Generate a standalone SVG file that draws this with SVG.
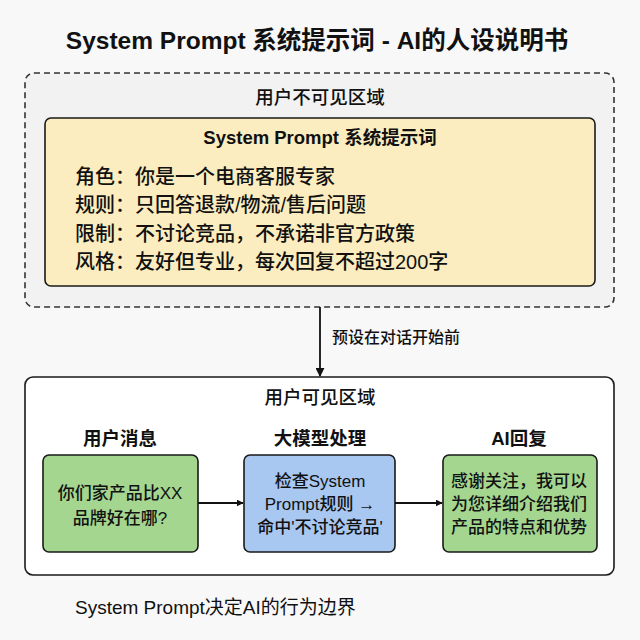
<svg xmlns="http://www.w3.org/2000/svg" width="640" height="640" viewBox="0 0 640 640">
<defs>
<style>
text{font-family:"Liberation Sans","Noto Sans CJK SC",sans-serif;fill:#111}
.t{font-size:24.5px;font-weight:bold;text-anchor:middle}
.h{font-size:18.5px;text-anchor:middle;font-weight:500}
.hb{font-size:18.5px;font-weight:bold;text-anchor:middle}
.li{font-size:20px;font-weight:500}
.bx{font-size:17px;text-anchor:middle;font-weight:500}
.box{stroke:#1a1a1a;stroke-width:1.6}
.line{stroke:#111;stroke-width:1.8;fill:none}
</style>
<marker id="ah" viewBox="0 0 10 10" refX="9" refY="5" markerWidth="7" markerHeight="7" orient="auto" markerUnits="userSpaceOnUse">
<path d="M0,0 L10,5 L0,10 z" fill="#111"/>
</marker>
<marker id="ah2" viewBox="0 0 10 10" refX="9" refY="5" markerWidth="9" markerHeight="9" orient="auto" markerUnits="userSpaceOnUse">
<path d="M0,0 L10,5 L0,10 z" fill="#111"/>
</marker>
</defs>
<rect width="640" height="640" fill="#f8f8f8"/>
<text class="t" x="317" y="49">System Prompt 系统提示词 - AI的人设说明书</text>

<g id="hidden-zone">
<rect x="25" y="73" width="589" height="234" rx="9" fill="#f2f2f2" stroke="#333" stroke-width="1.6" stroke-dasharray="6,4"/>
<text class="h" x="320" y="104">用户不可见区域</text>
</g>

<g id="system-prompt">
<rect class="box" x="45" y="118" width="550" height="168" rx="6" fill="#fbedbf"/>
<text class="hb" x="320" y="144">System Prompt 系统提示词</text>
<text class="li" x="75" y="184">角色：你是一个电商客服专家</text>
<text class="li" x="75" y="212">规则：只回答退款/物流/售后问题</text>
<text class="li" x="75" y="241">限制：不讨论竞品，不承诺非官方政策</text>
<text class="li" x="75" y="269">风格：友好但专业，每次回复不超过200字</text>
</g>

<g id="visible-zone">
<rect x="25" y="377" width="589" height="198" rx="8" fill="#ffffff" stroke="#1a1a1a" stroke-width="1.6"/>
<text class="h" x="320" y="404">用户可见区域</text>
<text class="hb" x="120" y="445">用户消息</text>
<text class="hb" x="320" y="445">大模型处理</text>
<text class="hb" x="519" y="445">AI回复</text>
</g>

<g id="user-message">
<rect class="box" x="43" y="455" width="155" height="97" rx="6" fill="#a4d68f"/>
<text class="bx" x="120" y="499">你们家产品比XX</text>
<text class="bx" x="120" y="524">品牌好在哪?</text>
</g>

<g id="llm-processing">
<rect class="box" x="244" y="455" width="151" height="97" rx="6" fill="#a8c7f1"/>
<text class="bx" x="320" y="487">检查System</text>
<text class="bx" x="320" y="510">Prompt规则 →</text>
<text class="bx" x="320" y="533">命中'不讨论竞品'</text>
</g>

<g id="ai-reply">
<rect class="box" x="443" y="455" width="154" height="97" rx="6" fill="#a4d68f"/>
<text class="bx" x="519" y="487">感谢关注，我可以</text>
<text class="bx" x="519" y="510">为您详细介绍我们</text>
<text class="bx" x="519" y="533">产品的特点和优势</text>
</g>

<g id="connectors">
<line class="line" x1="320" y1="307" x2="320" y2="376" marker-end="url(#ah2)"/>
<text x="332" y="343" style="font-size:16px;font-weight:500">预设在对话开始前</text>
<line class="line" x1="198" y1="503" x2="243" y2="503" marker-end="url(#ah)"/>
<line class="line" x1="395" y1="503" x2="442" y2="503" marker-end="url(#ah)"/>
</g>

<text x="75" y="614" style="font-size:19px">System Prompt决定AI的行为边界</text>
</svg>
